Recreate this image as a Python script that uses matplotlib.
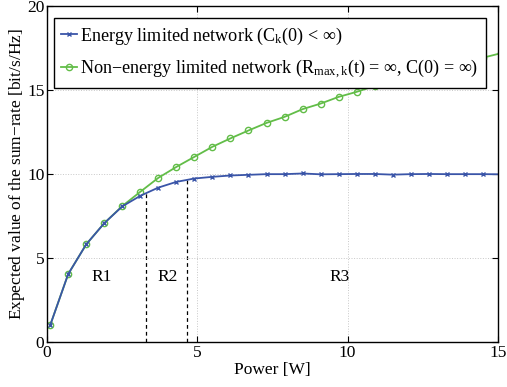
import numpy as np
import matplotlib
matplotlib.use("Agg")
import matplotlib.pyplot as plt

plt.rcParams['font.family'] = ['Liberation Serif', 'DejaVu Serif']
plt.rcParams['mathtext.fontset'] = 'custom'
plt.rcParams['mathtext.rm'] = 'Liberation Serif'
plt.rcParams['mathtext.it'] = 'Liberation Serif'

power = [0.1, 0.7, 1.3, 1.9, 2.5, 3.1, 3.7, 4.3, 4.9, 5.5, 6.1, 6.7, 7.3, 7.9,
         8.5, 9.1, 9.7, 10.3, 10.9, 11.5, 12.1, 12.7, 13.3, 13.9, 14.5, 15.1]
energy_limited = [1.0, 4.05, 5.82, 7.08, 8.08, 8.71, 9.2, 9.54, 9.74, 9.84, 9.92,
                  9.96, 10.0, 10.0, 10.04, 9.99, 10.0, 10.01, 10.01, 9.97, 10.0,
                  10.01, 10.0, 10.0, 10.0, 9.99]
non_energy_limited = [1.0, 4.05, 5.82, 7.08, 8.1, 8.95, 9.78, 10.43, 11.03, 11.63,
                      12.13, 12.6, 13.05, 13.41, 13.87, 14.2, 14.6, 14.9, 15.25,
                      15.55, 15.85, 16.15, 16.42, 16.68, 16.93, 17.2]
region_bounds = [3.3, 4.65]
region_labels = ['R1', 'R2', 'R3']
region_label_x = [1.82, 4.0, 9.74]
region_label_y = 3.87

blue = '#3a55a8'
green = '#62bd48'

fig = plt.figure(figsize=(5.07, 3.87), dpi=100)
ax = fig.add_axes([0.093, 0.116, 0.889, 0.868])

ln_g, = ax.plot(power, non_energy_limited, color=green, lw=1.3, marker='o',
                markersize=4.5, markerfacecolor='none', markeredgewidth=1.0,
                label=r'Non$-$energy limited network (R$_{\mathrm{max,k}}$(t) = $\infty$, C(0) = $\infty$)')
ln_b, = ax.plot(power, energy_limited, color=blue, lw=1.3, marker='x',
                markersize=3.5, markeredgewidth=1.0,
                label=r'Energy limited network (C$_{\mathrm{k}}$(0) < $\infty$)')

for xb in region_bounds:
    ax.vlines(xb, 0, np.interp(xb, power, energy_limited), colors='black',
              linestyles=(0, (3, 2.5)), lw=0.9, zorder=1)

for t, xt in zip(region_labels, region_label_x):
    ax.text(xt, region_label_y, t, ha='center', va='center', fontsize=12.5)

ax.set_xlim(0, 15)
ax.set_ylim(0, 20)
ax.set_xticks([0, 5, 10, 15])
ax.set_yticks([0, 5, 10, 15, 20])
ax.grid(True, color='#c8c8c8', linestyle=':', lw=0.7)
ax.tick_params(direction='in', top=True, right=True, labelsize=12.5, length=4, pad=2)
for s in ax.spines.values():
    s.set_linewidth(1.0)
ax.set_xlabel('Power [W]', fontsize=12.5, labelpad=1)
ax.set_ylabel('Expected value of the sum$-$rate [bit/s/Hz]', fontsize=12.5, labelpad=0)

leg = ax.legend([ln_b, ln_g], [ln_b.get_label(), ln_g.get_label()],
                loc='upper left', bbox_to_anchor=(0.015, 0.964), fontsize=13.05,
                frameon=True, fancybox=False, edgecolor='black', framealpha=1,
                handlelength=0.9, handletextpad=0.15, borderpad=0.4,
                labelspacing=0.6, borderaxespad=0)
leg.get_frame().set_linewidth(1.0)

fig.savefig('out.png', dpi=100)
